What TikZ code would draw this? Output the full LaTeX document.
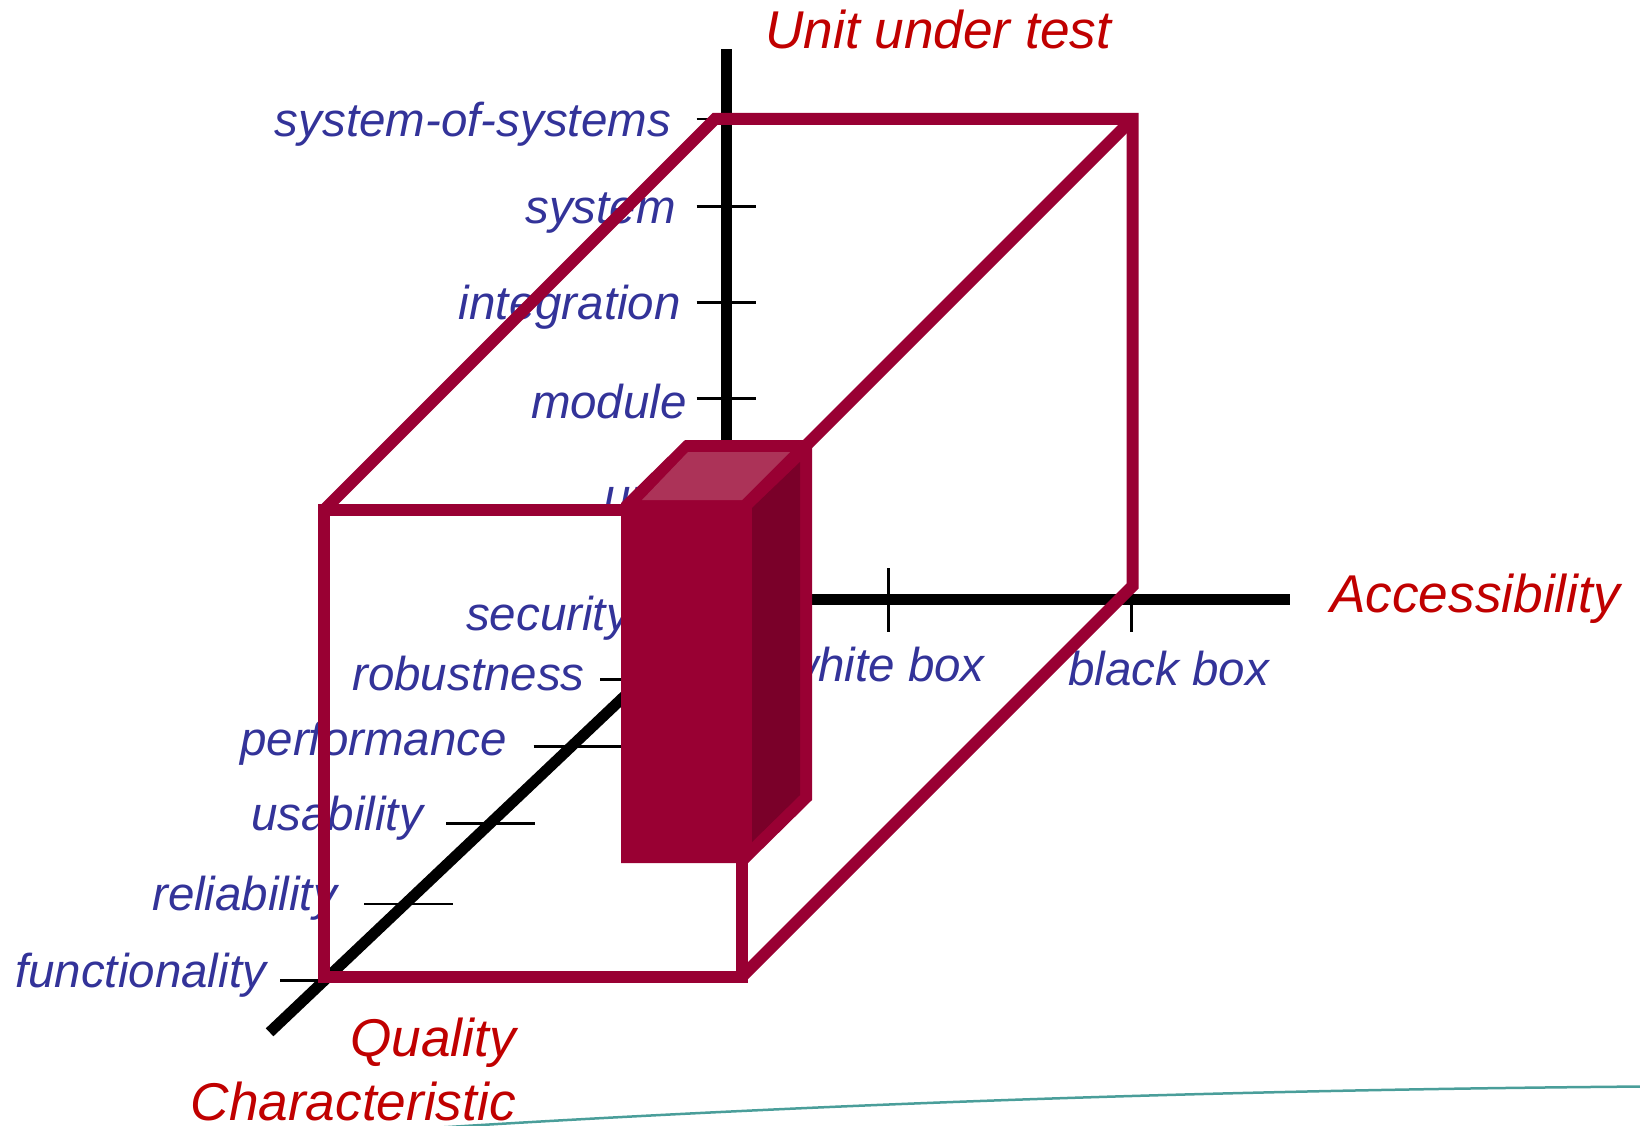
\documentclass[tikz,border=0pt]{standalone}
\usepackage{fontspec}
\setmainfont{Liberation Sans}
\definecolor{catblue}{HTML}{333399}
\definecolor{dimred}{HTML}{C00000}
\definecolor{boxred}{HTML}{990033}
\definecolor{sidered}{HTML}{7A0029}
\definecolor{topred}{HTML}{AC3358}
\definecolor{swoosh}{HTML}{4A9E9A}
\begin{document}
\begin{tikzpicture}[x=1pt,y=-1pt,
  axisline/.style={line width=11pt, black},
  tickline/.style={line width=2.7pt, black},
  cubeline/.style={line width=12pt, boxred, line join=miter},
  cat/.style={text=catblue, font=\fontsize{47.5}{57}\selectfont\itshape, inner sep=0pt},
  dim/.style={text=dimred, font=\fontsize{53.2}{64}\selectfont\itshape, inner sep=0pt}]
\useasboundingbox (0,0) rectangle (1640,1126);

% ---- axis titles ----
\node[dim, anchor=base west] (uut)  at (765,48.3)  {Unit under test};
\node[dim, anchor=base west] (acc)  at (1330,612.7) {Accessibility};
\node[dim, anchor=base east] (qc1)  at (516,1056.7) {Quality};
\node[dim, anchor=base east, text depth=0pt] (qc2) at (516,1120.5) {Characteristic};

% ---- levels of the unit under test ----
\node[cat, anchor=base east] (sos)  at (671,136.7) {system-of-systems};
\node[cat, anchor=base east] (sys)  at (676,223.3) {system};
\node[cat, anchor=base east] (intg) at (681,319.3) {integration};
\node[cat, anchor=base east] (mod)  at (687,418.3) {module};
\node[cat, anchor=base west] (unit) at (604,512)   {unit};

% ---- quality characteristics ----
\node[cat, anchor=base west] (sec)  at (466,630.7) {security};
\node[cat, anchor=base west] (rob)  at (352,690.7) {robustness};
\node[cat, anchor=base west] (perf) at (240,755)   {performance};
\node[cat, anchor=base west] (usa)  at (251,830)   {usability};
\node[cat, anchor=base west] (rel)  at (152,910)   {reliability};
\node[cat, anchor=base west] (fun)  at (15,987.3)  {functionality};

% ---- accessibility ----
\node[cat, anchor=base east] (wb)   at (985,681.7)  {white box};
\node[cat, anchor=base west] (bb)   at (1068,685)   {black box};

% ---- axes ----
\coordinate (o)  at (726.5,599.5);
\coordinate (vt) at (726.5,49);
\coordinate (ht) at (1290,599.5);
\coordinate (dt) at (269.6,1032.3);
\draw[axisline] (o) -- (vt);
\draw[axisline] (o) -- (ht);
\draw[axisline] (o) -- (dt);

% ticks on the vertical axis
\foreach \y in {119,206.7,302.3,398.3,494}
  \draw[tickline] (696.7,\y) -- (755.7,\y);
% ticks on the horizontal axis
\foreach \x in {888.8,1131.5}
  \draw[tickline] (\x,568.3) -- (\x,631.7);
% ticks on the diagonal axis
\foreach \x/\y in {280/980.7, 364.3/904, 446.4/823.3, 533.5/746.7, 600.4/679.3, 660/612}
  \draw[tickline] (\x,\y) -- ++(88.2,0);

% ---- wire-frame cube ----
\coordinate (ftl) at (324,510);
\coordinate (ftr) at (741.5,510);
\coordinate (fbr) at (741.5,977);
\coordinate (fbl) at (324,977);
\coordinate (btl) at (715,119);
\coordinate (btr) at (1132.5,119);
\coordinate (bbr) at (1132.5,586);
\draw[cubeline] (ftl) -- (ftr) -- (fbr) -- (fbl) -- cycle;
\draw[cubeline] (ftl) -- (btl) -- (btr) -- (bbr) -- (fbr);
\draw[cubeline] (btr) -- (ftr);

% ---- solid bar ----
\fill[boxred] (621,503) -- (685,440) -- (812,440) -- (812,800) -- (748,863) -- (621,863) -- cycle;
\fill[sidered] (752,508) -- (800,462) -- (800,795) -- (752,842) -- cycle;
\fill[topred] (642,500) -- (688,452) -- (790,452) -- (742,500) -- cycle;

% ---- decorative swoosh ----
\draw[swoosh, line width=2.5pt] (432,1128) .. controls (800,1105) and (1200,1090) .. (1645,1086.5);
\end{tikzpicture}
\end{document}
